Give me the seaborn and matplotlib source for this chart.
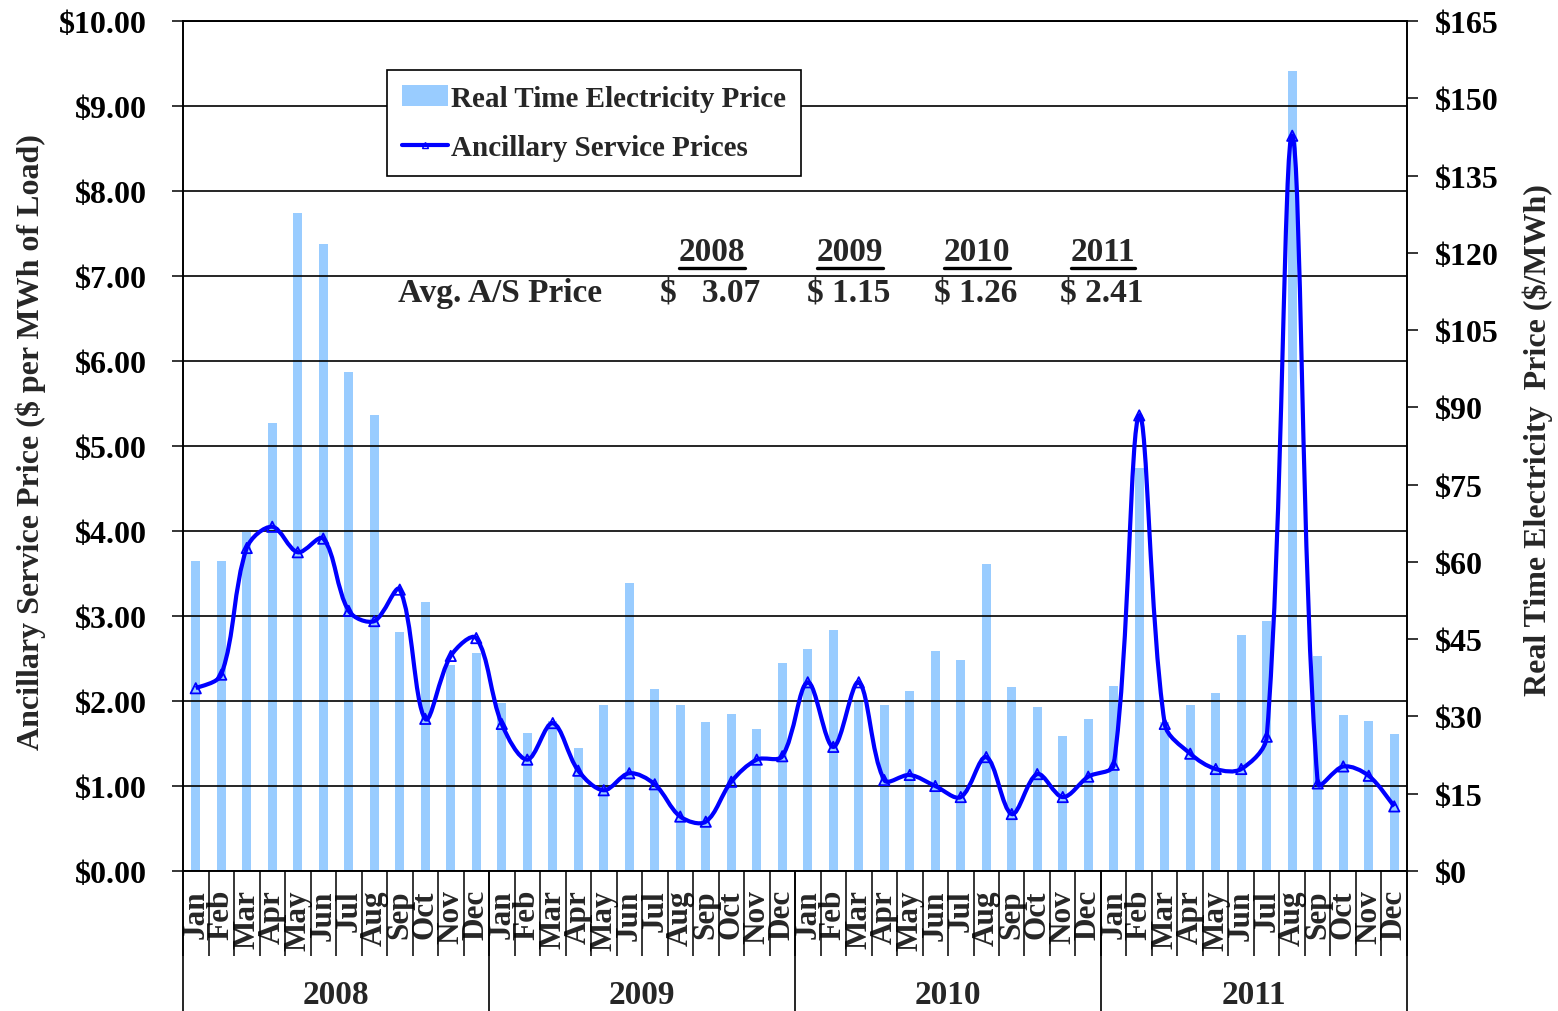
import numpy as np
import pandas as pd
import seaborn as sns
import matplotlib.pyplot as plt
from matplotlib.path import Path
from matplotlib.patches import PathPatch, Patch
from matplotlib.lines import Line2D
from matplotlib.ticker import FuncFormatter

# ---- data ----
years = ['2008', '2009', '2010', '2011']
months = ['Jan', 'Feb', 'Mar', 'Apr', 'May', 'Jun',
          'Jul', 'Aug', 'Sep', 'Oct', 'Nov', 'Dec']

# real time electricity price ($/MWh), right axis
rt_2008 = [60.2, 60.2, 65.8, 87.0, 127.7, 121.7, 96.9, 88.5, 46.4, 52.2, 40.0, 42.3]
rt_2009 = [32.6, 26.8, 29.1, 23.9, 32.2, 55.9, 35.3, 32.2, 28.9, 30.5, 27.6, 40.4]
rt_2010 = [43.1, 46.8, 33.0, 32.2, 34.9, 42.7, 41.0, 59.6, 35.7, 31.8, 26.2, 29.5]
rt_2011 = [36.0, 78.2, 29.0, 32.2, 34.5, 45.8, 48.5, 155.3, 41.7, 30.2, 29.2, 26.6]

# ancillary service price ($ per MWh of load), left axis
as_2008 = [2.15, 2.31, 3.80, 4.05, 3.75, 3.91, 3.06, 2.94, 3.31, 1.79, 2.53, 2.74]
as_2009 = [1.73, 1.31, 1.74, 1.18, 0.95, 1.15, 1.02, 0.64, 0.58, 1.05, 1.31, 1.35]
as_2010 = [2.22, 1.46, 2.22, 1.07, 1.13, 1.00, 0.87, 1.34, 0.67, 1.14, 0.87, 1.11]
as_2011 = [1.25, 5.36, 1.73, 1.38, 1.20, 1.20, 1.58, 8.65, 1.03, 1.23, 1.12, 0.76]

avg_labels = ['$   3.07', '$ 1.15', '$ 1.26', '$ 2.41']

BAR_COLOR = '#99CCFF'
LINE_COLOR = '#0000FF'

df = pd.DataFrame({
    'period': [f'{m} {y}' for y in years for m in months],
    'month': months * len(years),
    'rt_price': rt_2008 + rt_2009 + rt_2010 + rt_2011,
    'as_price': as_2008 + as_2009 + as_2010 + as_2011,
})
df['pos'] = np.arange(len(df))

sns.set_style('white')
plt.rcParams['font.family'] = ['Liberation Serif', 'DejaVu Serif']
plt.rcParams['font.weight'] = 'bold'
plt.rcParams['axes.labelweight'] = 'bold'

fig = plt.figure(figsize=(15.58, 10.12), dpi=100)
ax = fig.add_axes([0.11746, 0.13834, 0.78562, 0.83992])
ax2 = ax.twinx()

# bars on the right axis
sns.barplot(data=df, x='period', y='rt_price', ax=ax2, color=BAR_COLOR,
            saturation=1, width=0.35, edgecolor='none')
ax2.set_ylim(0, 165)
ax2.set_yticks(np.arange(0, 166, 15))
ax2.yaxis.set_major_formatter(FuncFormatter(lambda v, p: f'${v:.0f}'))
ax2.set_xlabel('')
ax2.set_ylabel('Real Time Electricity  Price ($/MWh)', fontsize=23,
               fontweight='bold')
ax2.yaxis.set_label_coords(1.094, 0.508)
ax2.tick_params(axis='y', labelsize=23, length=8, width=1.1, pad=12,
                direction='out', colors='black')

# line on the left axis, drawn above bars
ax.set_zorder(ax2.get_zorder() + 1)
ax.patch.set_visible(False)

# smoothed line, Excel style: Catmull-Rom tangents weighted by segment length
xs = df['pos'].to_numpy(dtype=float)
ys = df['as_price'].to_numpy(dtype=float)
pts = np.column_stack([xs, ys])
pix = np.array([25.5, 85.0])  # approx pixels per data unit, for distances
n = len(pts)
seg = np.array([np.hypot(*((pts[i + 1] - pts[i]) * pix)) for i in range(n - 1)])
verts = [tuple(pts[0])]
codes = [Path.MOVETO]
for i in range(n - 1):
    p1, p2 = pts[i], pts[i + 1]
    p0 = pts[i - 1] if i > 0 else p1
    p3 = pts[i + 2] if i + 2 < n else p2
    d01 = seg[i - 1] if i > 0 else 0.0
    d12 = seg[i]
    d23 = seg[i + 1] if i + 2 < n else 0.0
    f1 = d12 / (d01 + d12) if i > 0 else 0.5
    f2 = d12 / (d12 + d23) if i + 2 < n else 0.5
    c1 = p1 + (p2 - p0) * f1 / 3.0
    c2 = p2 - (p3 - p1) * f2 / 3.0
    verts += [tuple(c1), tuple(c2), tuple(p2)]
    codes += [Path.CURVE4] * 3
ax.add_patch(PathPatch(Path(verts, codes), facecolor='none',
                       edgecolor=LINE_COLOR, lw=3, zorder=3))
sns.scatterplot(data=df, x='pos', y='as_price', ax=ax, marker='^', s=55,
                facecolor='none', edgecolor=LINE_COLOR, linewidth=1.3,
                zorder=4, legend=False)

ax.set_xlim(-0.5, len(df) - 0.5)
ax.set_ylim(0, 10)
ax.set_yticks(np.arange(0, 11, 1))
ax.yaxis.set_major_formatter(FuncFormatter(lambda v, p: f'${v:.2f}'))
ax.grid(axis='y', color='black', lw=1.2)
ax.grid(axis='x', visible=False)
ax.set_axisbelow(True)
ax.set_xlabel('')
ax.set_ylabel('Ancillary Service Price ($ per MWh of Load)', fontsize=23,
              fontweight='bold')
ax.yaxis.set_label_coords(-0.112, 0.506)
ax.tick_params(axis='y', labelsize=23, length=8, width=1.1, pad=18,
               direction='out', colors='black', left=True)

# month labels and separators
ax.set_xticks(df['pos'])
ax.set_xticklabels(df['month'], rotation=90, fontsize=22.5, fontweight='bold')
ax.tick_params(axis='x', which='major', length=0, pad=13)
ax.set_xticks(np.arange(-0.5, len(df), 1), minor=True)
ax.tick_params(axis='x', which='minor', length=61, width=1.1,
               direction='out', color='black', bottom=True)

for sp in ['left', 'right', 'bottom', 'top']:
    ax.spines[sp].set_color('black')
    ax.spines[sp].set_linewidth(1.2)
    ax2.spines[sp].set_color('black')
    ax2.spines[sp].set_linewidth(1.2)

# year groups
trans = ax.get_xaxis_transform()
for k, yr in enumerate(years):
    left = k * len(months) - 0.5
    ax.plot([left, left], [0, -0.17], transform=trans, color='black',
            lw=1.2, clip_on=False)
    ax.text(left + len(months) / 2, -0.145, yr, transform=trans,
            ha='center', va='center', fontsize=24, fontweight='bold')
end = len(df) - 0.5
ax.plot([end, end], [0, -0.17], transform=trans, color='black', lw=1.2,
        clip_on=False)

# average price annotations
ax.text(11.93, 6.81, 'Avg. A/S Price', ha='center', va='center',
        fontsize=24, fontweight='bold', zorder=5)
year_x = [20.24, 25.66, 30.64, 35.58]
year_texts = []
for yx, yr, lab in zip(year_x, years, avg_labels):
    t = ax.text(yx, 7.29, yr, ha='center', va='center', fontsize=24,
                fontweight='bold', zorder=5)
    year_texts.append(t)
    ax.text(yx - 0.05, 6.81, lab, ha='center', va='center', fontsize=24,
            fontweight='bold', zorder=5)

# legend
handles = [Patch(facecolor=BAR_COLOR, edgecolor='none'),
           Line2D([0], [0], color=LINE_COLOR, lw=3, marker='^', ms=5,
                  mfc='none', mec=LINE_COLOR)]
leg = ax.legend(handles, ['Real Time Electricity Price',
                          'Ancillary Service Prices'],
                loc='upper left', bbox_to_anchor=(0.1667, 0.9424),
                borderaxespad=0, fontsize=21, frameon=True, fancybox=False,
                framealpha=1, edgecolor='black', handlelength=1.6,
                handletextpad=0.1, labelspacing=0.78, borderpad=0.5)
leg.get_frame().set_linewidth(1.2)
for txt in leg.get_texts():
    txt.set_fontweight('bold')

# underline the year headers
fig.canvas.draw()
renderer = fig.canvas.get_renderer()
for t in year_texts:
    bb = t.get_window_extent(renderer)
    yline = bb.y0 - 1
    fig.add_artist(Line2D([bb.x0 / fig.dpi / fig.get_figwidth(),
                           bb.x1 / fig.dpi / fig.get_figwidth()],
                          [yline / fig.dpi / fig.get_figheight()] * 2,
                          color='black', lw=2.4))

fig.savefig('out.png', dpi=100)
